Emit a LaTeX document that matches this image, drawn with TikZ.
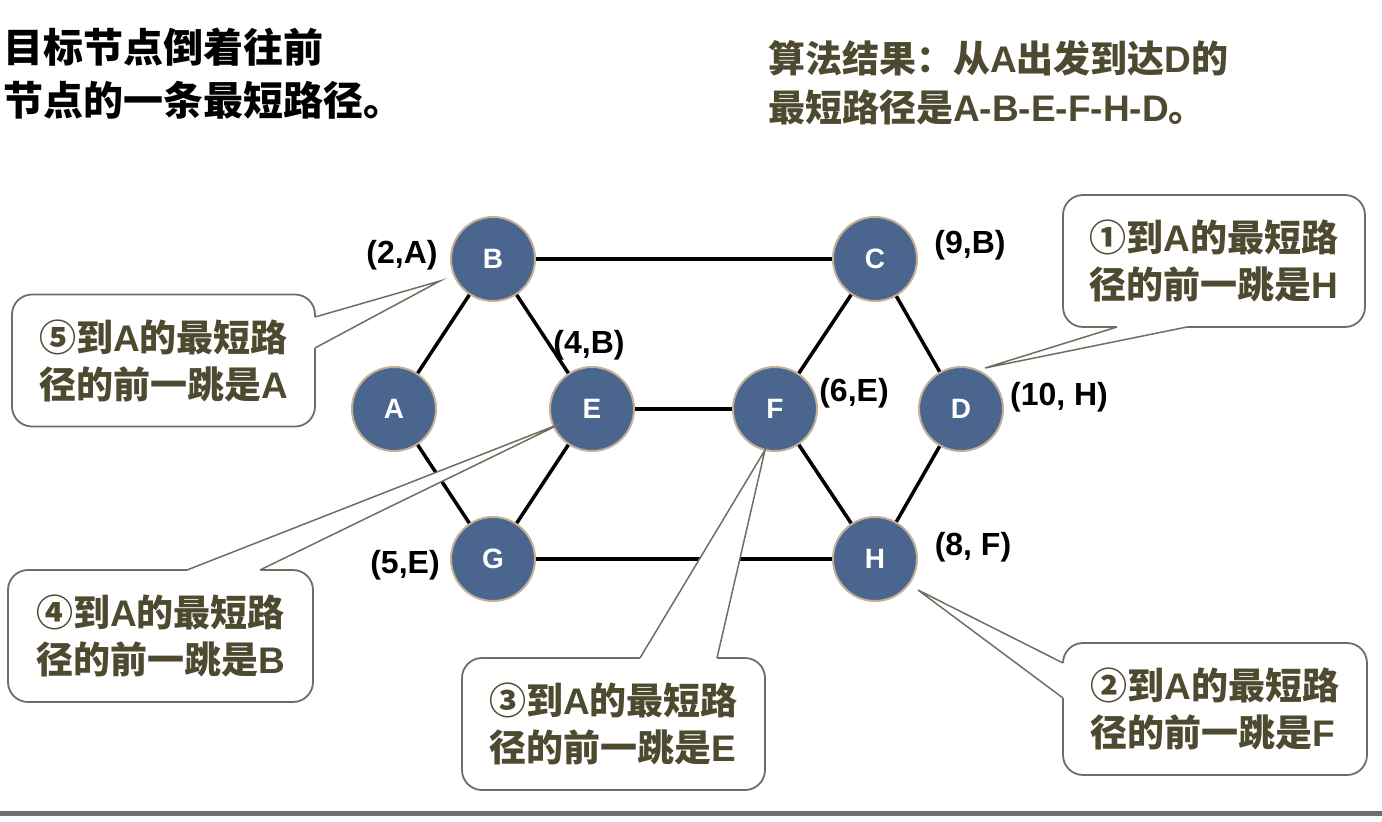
\documentclass[tikz,border=0pt]{standalone}
\usepackage{fontspec}
\setmainfont{Liberation Sans}
\newfontfamily\cjk{Noto Sans CJK SC}
\definecolor{nodeblue}{RGB}{74,101,142}
\definecolor{nodering}{RGB}{196,176,150}
\definecolor{olivetext}{RGB}{78,74,48}
\definecolor{boxline}{RGB}{112,110,96}
\definecolor{rulegray}{RGB}{110,110,110}
\begin{document}
\begin{tikzpicture}[x=1pt,y=-1pt,
  vert/.style={circle, fill=nodeblue, draw=nodering, line width=2pt, minimum size=84pt, inner sep=0pt, text=white, font=\fontsize{28}{28}\selectfont\bfseries},
  edge/.style={line width=3.5pt, black},
  coordlabel/.style={font=\fontsize{32}{32}\selectfont\bfseries, text=black, inner sep=0pt},
  callbox/.style={draw=boxline, line width=1.8pt, fill=white, rounded corners=20pt, minimum height=132pt, align=left, text=olivetext, font=\fontsize{37}{47}\selectfont\bfseries, inner sep=0pt},
  tail/.style={draw=boxline, line width=1.5pt},
  headtext/.style={anchor=west, align=left, inner sep=0pt, font=\fontsize{40}{53}\selectfont\bfseries},
]
\useasboundingbox (0,0) rectangle (1382,822);

% headings
\node[headtext, text=black] (h1) at (3,74) {{\cjk 目标节点倒着往前}\\{\cjk 节点的一条最短路径。}};
\node[headtext, text=olivetext, font=\fontsize{37}{49}\selectfont\bfseries] (h2) at (768,83) {{\cjk 算法结果：从}A{\cjk 出发到达}D{\cjk 的}\\{\cjk 最短路径是}A-B-E-F-H-D{\cjk 。}};

% graph vertices
\node[vert] (B) at (493,259) {B};
\node[vert] (C) at (875,259) {C};
\node[vert] (A) at (394,409) {A};
\node[vert] (E) at (592,409) {E};
\node[vert] (F) at (775,409) {F};
\node[vert] (D) at (961,409) {D};
\node[vert] (G) at (493,559) {G};
\node[vert] (H) at (875,559) {H};

% edges
\draw[edge] (A) -- (B);
\draw[edge] (B) -- (E);
\draw[edge] (A) -- (G);
\draw[edge] (E) -- (G);
\draw[edge] (B) -- (C);
\draw[edge] (E) -- (F);
\draw[edge] (G) -- (H);
\draw[edge] (F) -- (C);
\draw[edge] (F) -- (H);
\draw[edge] (C) -- (D);
\draw[edge] (D) -- (H);

% distance labels
\node[coordlabel] (lB) at (402,255) {(2,A)};
\node[coordlabel] (lE) at (589,345) {(4,B)};
\node[coordlabel] (lC) at (970,245) {(9,B)};
\node[coordlabel] (lF) at (854,393) {(6,E)};
\node[coordlabel] (lD) at (1059,397) {(10, H)};
\node[coordlabel] (lG) at (405,565) {(5,E)};
\node[coordlabel] (lH) at (973,547) {(8, F)};

% callout tips
\coordinate (t1) at (985,368);
\coordinate (t2) at (918,590);
\coordinate (t3) at (765,450);
\coordinate (t4) at (562,423);
\coordinate (t5) at (440,281);

% callout 5
\node[callbox, minimum width=303pt] (c5) at (163.5,360.5) {{\cjk ⑤到}A{\cjk 的最短路}\\{\cjk 径的前一跳是}A};
\fill[white] (312,317) -- (315,317) -- (t5) -- (315,348) -- (312,348) -- cycle;
\draw[tail] (315,317) -- (t5) -- (315,348);

% callout 1
\node[callbox, minimum width=302pt] (c1) at (1214,261) {{\cjk ①到}A{\cjk 的最短路}\\{\cjk 径的前一跳是}H};
\fill[white] (1117,324) -- (1117,327) -- (t1) -- (1187,327) -- (1187,324) -- cycle;
\draw[tail] (1117,327) -- (t1) -- (1187,327);

% callout 4
\node[callbox, minimum width=305pt] (c4) at (160.5,636) {{\cjk ④到}A{\cjk 的最短路}\\{\cjk 径的前一跳是}B};
\fill[white] (187,573) -- (187,570) -- (t4) -- (260,570) -- (260,573) -- cycle;
\draw[tail] (187,570) -- (t4) -- (260,570);

% callout 3
\node[callbox, minimum width=303pt] (c3) at (613.5,724) {{\cjk ③到}A{\cjk 的最短路}\\{\cjk 径的前一跳是}E};
\fill[white] (640,661) -- (640,658) -- (t3) -- (717,658) -- (717,661) -- cycle;
\draw[tail] (640,658) -- (t3) -- (717,658);

% callout 2
\node[callbox, minimum width=304pt] (c2) at (1215,709) {{\cjk ②到}A{\cjk 的最短路}\\{\cjk 径的前一跳是}F};
\fill[white] (1066,663) -- (1063,663) -- (t2) -- (1063,698) -- (1066,698) -- cycle;
\draw[tail] (1063,663) -- (t2) -- (1063,698);

% bottom rule
\draw[rulegray, line width=5pt] (0,813) -- (1382,813);
\end{tikzpicture}
\end{document}
